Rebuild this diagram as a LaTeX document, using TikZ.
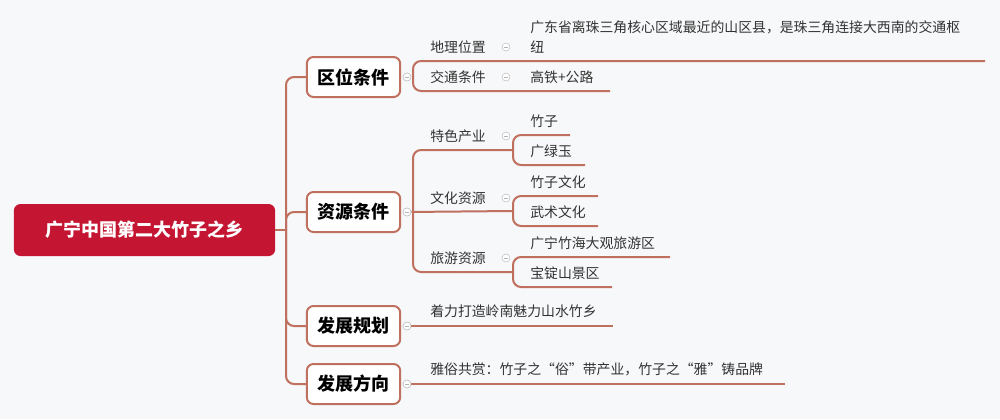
\documentclass[tikz,border=0pt]{standalone}
\usepackage{fontspec}
\setmainfont{Noto Sans CJK SC}
\begin{document}
\begin{tikzpicture}[x=0.75pt,y=-0.75pt,
  ln/.style={draw=lc,line width=1.5pt,rounded corners=6pt},
  lone/.style={draw=lc,line width=1.5pt,fill=white,rounded corners=5pt,minimum width=70pt,minimum height=30pt,font=\bfseries\fontsize{13.5}{15}\selectfont,inner sep=0pt},
  txt/.style={anchor=west,font=\fontsize{10.4}{13}\selectfont,text=black!80,inner sep=0pt},
  col/.style={circle,draw=gray!50,line width=0.4pt,minimum size=6pt,inner sep=0pt,fill=white,
    path picture={\draw[gray!60,line width=0.4pt] ([xshift=-1.6pt]path picture bounding box.center)--([xshift=1.6pt]path picture bounding box.center);}}]
\definecolor{lc}{RGB}{192,112,94}
\definecolor{rootc}{RGB}{196,22,50}
\useasboundingbox (0,0) rectangle (1000,419);
\fill[fill={rgb,255:red,246;green,248;blue,249}] (0,0) rectangle (1000,419);
% root
\node[fill=rootc,rounded corners=5pt,minimum width=196pt,minimum height=39pt,text=white,font=\bfseries\fontsize{13.5}{15}\selectfont] (root) at (144.5,230) {广宁中国第二大竹子之乡};
% level 1
\node[lone] (a) at (353.5,77) {区位条件};
\node[lone] (b) at (353.5,212) {资源条件};
\node[lone] (c) at (353.5,326) {发展规划};
\node[lone] (d) at (353.5,384) {发展方向};
\coordinate (t) at (286,230);
\draw[ln] (root.east) -- (t);
\foreach \n in {a,b,c,d} \draw[ln] (t) -- (t |- \n.west) -- (\n.west);
% collapse circles
\node[col] (ca) at (407,77) {};
\node[col] (cb) at (407,212) {};
\node[col] (cc) at (407,326) {};
\node[col] (cd) at (407,384) {};
% 区位
\coordinate (qa) at (413,61); \coordinate (qae) at (985,61);
\coordinate (qb) at (413,91); \coordinate (qbe) at (610,91);
\draw[ln] (qae) -- (qa) -- (qb) -- (qbe);
\node[txt] (q1) at (430,47) {地理位置};
\node[txt] (q2) at (430,77) {交通条件};
\node[col] at (506,47) {}; \node[col] at (506,77) {};
\node[txt,align=left,font=\fontsize{10.4}{15}\selectfont] (q1t) at (530,37) {广东省离珠三角核心区域最近的山区县，是珠三角连接大西南的交通枢\\纽};
\node[txt] (q2t) at (530,77) {高铁+公路};
% 资源
\coordinate (z1) at (413,150); \coordinate (z1e) at (513,150);
\coordinate (z2) at (413,211); \coordinate (z2e) at (513,211);
\coordinate (z3) at (413,272); \coordinate (z3e) at (513,272);
\draw[ln] (z1e) -- (z1) -- (z3) -- (z3e);
\draw[ln] (cb) -- (z2e);
\node[txt] at (430,136) {特色产业};
\node[txt] at (430,198) {文化资源};
\node[txt] at (430,258) {旅游资源};
\node[col] at (506,136) {}; \node[col] at (506,198) {}; \node[col] at (506,258) {};
\draw[ln] (570,135) -- (513,135) -- (513,165) -- (585,165);
\node[txt] at (530,121) {竹子};
\node[txt] at (530,151) {广绿玉};
\draw[ln] (598,196) -- (513,196) -- (513,226) -- (598,226);
\node[txt] at (530,182) {竹子文化};
\node[txt] at (530,212) {武术文化};
\draw[ln] (670,257) -- (513,257) -- (513,287) -- (612,287);
\node[txt] at (530,243) {广宁竹海大观旅游区};
\node[txt] at (530,273) {宝锭山景区};
% 发展
\coordinate (ce) at (613,326);
\draw[ln] (cc) -- (ce);
\node[txt] at (430,311) {着力打造岭南魅力山水竹乡};
\coordinate (de) at (785,384);
\draw[ln] (cd) -- (de);
\node[txt] at (430,369) {雅俗共赏：竹子之“俗”带产业，竹子之“雅”铸品牌};
\node[col] at (407,77) {}; \node[col] at (407,212) {}; \node[col] at (407,326) {}; \node[col] at (407,384) {};
\end{tikzpicture}
\end{document}
